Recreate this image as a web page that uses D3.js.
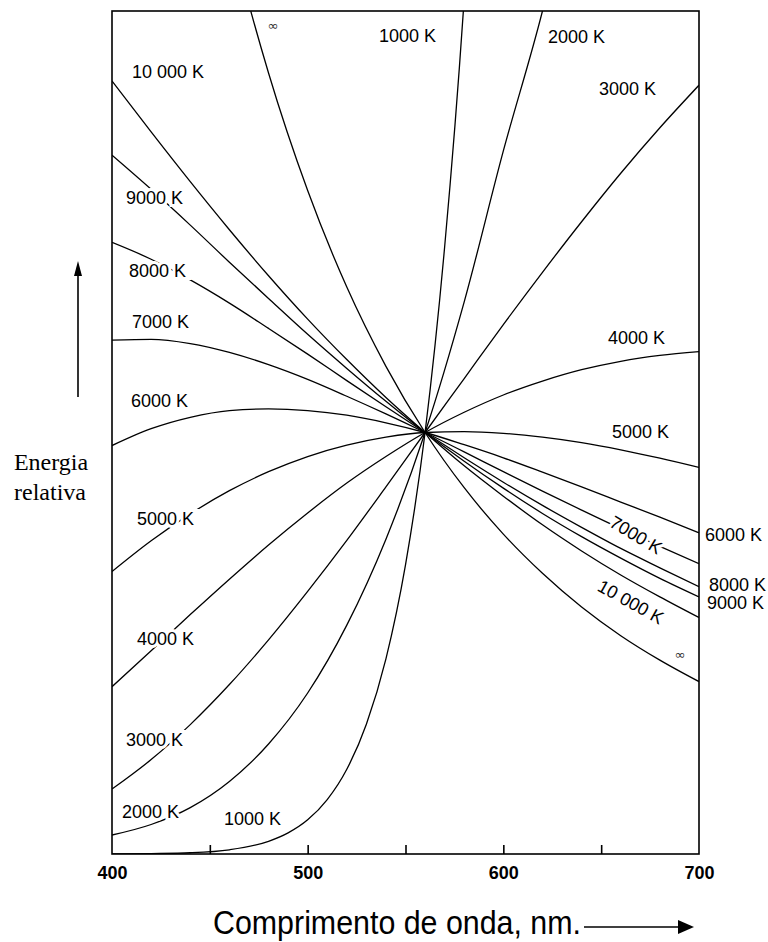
<!DOCTYPE html>
<html>
<head>
<meta charset="utf-8">
<script src="https://cdn.jsdelivr.net/npm/d3@7"></script>
<style>
  html, body { margin: 0; padding: 0; background: #fff; }
  svg { display: block; }
</style>
</head>
<body>
<svg id="chart" width="768" height="942"></svg>
<script>
// Relative spectral energy of black-body radiators, normalised to 1 at 560 nm.
const wavelengths = [400, 420, 440, 460, 480, 500, 520, 540, 560, 580, 600, 620, 640, 660, 680, 700];
const energy10000 = [1.834, 1.713, 1.595, 1.481, 1.372, 1.269, 1.173, 1.083, 1, 0.921, 0.849, 0.781, 0.719, 0.662, 0.610, 0.561];
const energy9000  = [1.658, 1.577, 1.492, 1.404, 1.318, 1.233, 1.152, 1.074, 1, 0.932, 0.868, 0.808, 0.753, 0.702, 0.654, 0.610];
const energy8000  = [1.451, 1.411, 1.362, 1.307, 1.247, 1.186, 1.123, 1.061, 1, 0.940, 0.882, 0.827, 0.775, 0.725, 0.679, 0.634];
const energy7000  = [1.219, 1.221, 1.211, 1.190, 1.161, 1.126, 1.086, 1.044, 1, 0.954, 0.907, 0.861, 0.816, 0.772, 0.730, 0.689];
const energy6000  = [0.969, 1.009, 1.036, 1.052, 1.056, 1.052, 1.041, 1.023, 1, 0.971, 0.940, 0.906, 0.871, 0.835, 0.799, 0.762];
const energy5000  = [0.670, 0.743, 0.807, 0.862, 0.907, 0.943, 0.970, 0.989, 1, 1.002, 0.998, 0.989, 0.976, 0.959, 0.939, 0.917];
const energy4000  = [0.397, 0.482, 0.568, 0.652, 0.733, 0.809, 0.880, 0.943, 1, 1.048, 1.089, 1.122, 1.149, 1.169, 1.183, 1.192];
const energy3000  = [0.154, 0.224, 0.307, 0.402, 0.508, 0.623, 0.744, 0.871, 1, 1.128, 1.256, 1.380, 1.500, 1.615, 1.723, 1.824];
const energy2000  = [0.045, 0.070, 0.110, 0.172, 0.261, 0.382, 0.543, 0.747, 1, 1.310, 1.668, 2.000, 2.400, null, null, null];
const energyInfinite = [3.842, 3.160, 2.624, 2.196, 1.853, 1.574, 1.345, 1.157, 1, 0.869, 0.759, 0.666, 0.586, 0.518, 0.460, 0.409];

// The 1000 K curve rises steeply, so it is sampled more finely.
const wavelengths1000 = [400, 420, 440, 460, 480, 490, 500, 510, 520, 530, 540, 550, 560, 570, 580, 590];
const energy1000 = [0, 0.001, 0.003, 0.010, 0.030, 0.050, 0.081, 0.129, 0.201, 0.308, 0.463, 0.686, 1, 1.44, 2.03, 2.85];

const tickMarks = [450, 500, 550, 600, 650];
const tickLabels = [400, 500, 600, 700];

// Curve labels, placed in (wavelength, relative energy) coordinates.
const curveLabels = [
  { text: "10 000 K", wl: 410.2, e: 1.841 },
  { text: "9000 K",   wl: 407.2, e: 1.542 },
  { text: "8000 K",   wl: 408.7, e: 1.369 },
  { text: "7000 K",   wl: 410.2, e: 1.248 },
  { text: "6000 K",   wl: 409.7, e: 1.060 },
  { text: "5000 K",   wl: 412.8, e: 0.781 },
  { text: "4000 K",   wl: 412.8, e: 0.496 },
  { text: "3000 K",   wl: 407.2, e: 0.256 },
  { text: "2000 K",   wl: 405.1, e: 0.085 },
  { text: "1000 K",   wl: 457.2, e: 0.069 },
  { text: "1000 K",   wl: 536.5, e: 1.926 },
  { text: "2000 K",   wl: 622.8, e: 1.924 },
  { text: "3000 K",   wl: 648.9, e: 1.801 },
  { text: "4000 K",   wl: 653.5, e: 1.210 },
  { text: "5000 K",   wl: 655.5, e: 0.987 },
  { text: "6000 K",   wl: 703.1, e: 0.743 },
  { text: "8000 K",   wl: 705.1, e: 0.624 },
  { text: "9000 K",   wl: 704.1, e: 0.581 }
];
const slantedLabels = [
  { text: "7000 K",   wl: 667.8, e: 0.757, angle: 31 },
  { text: "10 000 K", wl: 665.2, e: 0.598, angle: 29 }
];
const infinityMarks = [
  { wl: 482.3, e: 1.955 },
  { wl: 690.3, e: 0.462 }
];

const series = [
  { wl: wavelengths1000, e: energy1000 },
  { wl: wavelengths, e: energy2000 },
  { wl: wavelengths, e: energy3000 },
  { wl: wavelengths, e: energy4000 },
  { wl: wavelengths, e: energy5000 },
  { wl: wavelengths, e: energy6000 },
  { wl: wavelengths, e: energy7000 },
  { wl: wavelengths, e: energy8000 },
  { wl: wavelengths, e: energy9000 },
  { wl: wavelengths, e: energy10000 },
  { wl: wavelengths, e: energyInfinite }
];

const plot = { left: 112, right: 699, top: 11, bottom: 854 };
const svg = d3.select("#chart");

const x = d3.scaleLinear().domain([400, 700]).range([plot.left, plot.right]);
const y = d3.scaleLinear().domain([0, 2]).range([plot.bottom, plot.top]);

svg.append("defs").append("clipPath").attr("id", "plot-clip")
  .append("rect")
  .attr("x", plot.left).attr("y", plot.top)
  .attr("width", plot.right - plot.left).attr("height", plot.bottom - plot.top);

// Curves
const line = d3.line()
  .defined(d => d[1] != null)
  .x(d => x(d[0]))
  .y(d => y(d[1]))
  .curve(d3.curveMonotoneX);

svg.append("g").attr("clip-path", "url(#plot-clip)")
  .selectAll("path")
  .data(series)
  .join("path")
  .attr("d", s => line(s.wl.map((w, i) => [w, s.e[i]])))
  .attr("fill", "none")
  .attr("stroke", "#000")
  .attr("stroke-width", 1.3);

// Frame
svg.append("rect")
  .attr("x", plot.left).attr("y", plot.top)
  .attr("width", plot.right - plot.left).attr("height", plot.bottom - plot.top)
  .attr("fill", "none").attr("stroke", "#000").attr("stroke-width", 1.6);

// Inward tick marks
const tickAxis = svg.append("g")
  .attr("transform", `translate(0,${plot.bottom})`)
  .call(d3.axisBottom(x).tickValues(tickMarks).tickSize(-9).tickFormat(""));
tickAxis.select(".domain").remove();
tickAxis.selectAll("line").attr("stroke-width", 1.6);

// Wavelength labels
const labelAxis = svg.append("g")
  .attr("transform", `translate(0,${plot.bottom})`)
  .call(d3.axisBottom(x).tickValues(tickLabels).tickSize(0).tickPadding(12).tickFormat(d3.format("d")));
labelAxis.select(".domain").remove();
labelAxis.selectAll("text")
  .attr("font-family", "'Liberation Sans', Arial, sans-serif")
  .attr("font-size", 18)
  .attr("font-weight", "bold")
  .attr("fill", "#000");

// Curve labels with a white halo so the curves break around them
const labelFont = "'Liberation Sans', Arial, Helvetica, sans-serif";
svg.append("g")
  .selectAll("text")
  .data(curveLabels)
  .join("text")
  .attr("x", d => x(d.wl))
  .attr("y", d => y(d.e))
  .text(d => d.text)
  .attr("font-family", labelFont)
  .attr("font-size", 18)
  .attr("fill", "#000")
  .attr("stroke", "#fff")
  .attr("stroke-width", 6)
  .attr("paint-order", "stroke");

svg.append("g")
  .selectAll("text")
  .data(slantedLabels)
  .join("text")
  .attr("transform", d => `translate(${x(d.wl)},${y(d.e)}) rotate(${d.angle})`)
  .attr("text-anchor", "middle")
  .attr("dy", "0.35em")
  .text(d => d.text)
  .attr("font-family", labelFont)
  .attr("font-size", 18)
  .attr("fill", "#000")
  .attr("stroke", "#fff")
  .attr("stroke-width", 6)
  .attr("paint-order", "stroke");

svg.append("g")
  .selectAll("text")
  .data(infinityMarks)
  .join("text")
  .attr("x", d => x(d.wl))
  .attr("y", d => y(d.e))
  .attr("text-anchor", "middle")
  .text("∞")
  .attr("font-family", "'DejaVu Sans', sans-serif")
  .attr("font-size", 13)
  .attr("fill", "#333");

// Axis titles with arrows
svg.append("text")
  .attr("x", 213).attr("y", 934)
  .attr("textLength", 368)
  .attr("lengthAdjust", "spacingAndGlyphs")
  .attr("font-family", labelFont)
  .attr("font-size", 34)
  .attr("fill", "#000")
  .text("Comprimento de onda, nm.");

svg.append("line")
  .attr("x1", 584).attr("x2", 680).attr("y1", 927).attr("y2", 927)
  .attr("stroke", "#000").attr("stroke-width", 1.6);
svg.append("path")
  .attr("d", "M678,920 L694,927 L678,934 Z")
  .attr("fill", "#000");

const yTitle = svg.append("text")
  .attr("text-anchor", "middle")
  .attr("font-family", "'Liberation Serif', 'Times New Roman', serif")
  .attr("font-size", 24)
  .attr("fill", "#000");
yTitle.append("tspan").attr("x", 51).attr("y", 470).text("Energia");
yTitle.append("tspan").attr("x", 50).attr("y", 500).text("relativa");

svg.append("line")
  .attr("x1", 78).attr("x2", 78).attr("y1", 397).attr("y2", 274)
  .attr("stroke", "#000").attr("stroke-width", 1.6);
svg.append("path")
  .attr("d", "M74,276 L78,261 L82,276 Z")
  .attr("fill", "#000");
</script>
</body>
</html>
